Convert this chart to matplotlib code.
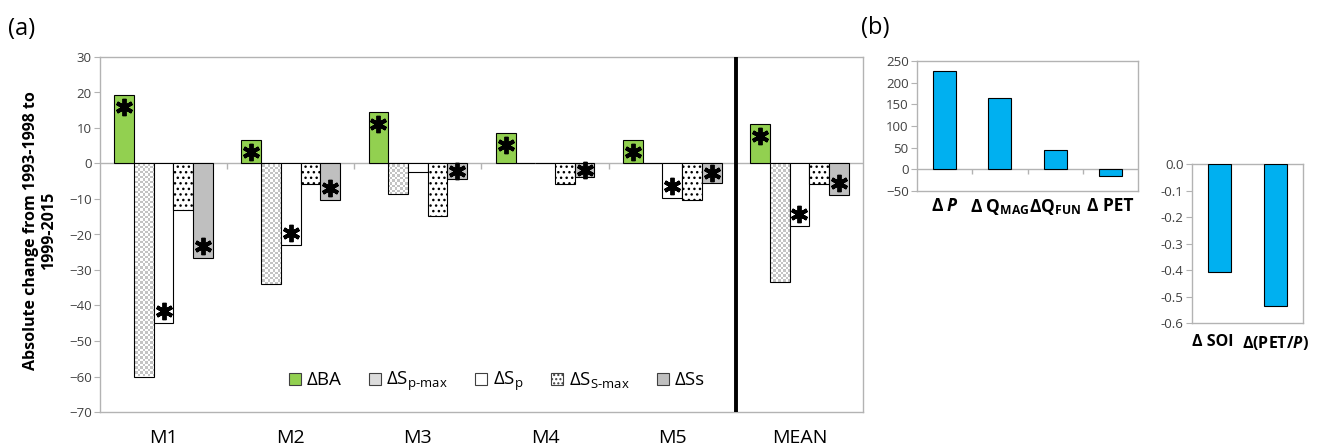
import numpy as np
import matplotlib
matplotlib.use("Agg")
import matplotlib.pyplot as plt
import matplotlib.transforms as mtrans
from matplotlib.patches import Patch
from matplotlib.colors import ListedColormap

plt.rcParams['font.family'] = ['Open Sans', 'DejaVu Sans']
plt.rcParams['mathtext.fontset'] = 'custom'
plt.rcParams['mathtext.rm'] = 'Open Sans'
plt.rcParams['mathtext.it'] = 'Open Sans:italic'
plt.rcParams['mathtext.bf'] = 'Open Sans:bold'
try:
    plt.rcParams['mathtext.bfit'] = 'Open Sans:bold:italic'
except KeyError:
    pass

# ---------------- data ----------------
categories = ["M1", "M2", "M3", "M4", "M5", "MEAN"]
d_BA = [19.4, 6.6, 14.6, 8.5, 6.5, 11.1]
d_Sp_max = [-60.0, -34.0, -8.5, 0.0, 0.0, -33.5]
d_Sp = [-45.0, -23.0, -2.3, 0.0, -9.8, -17.5]
d_Ss_max = [-13.0, -5.7, -14.7, -5.7, -10.3, -5.7]
d_Ss = [-26.7, -10.3, -4.5, -3.7, -5.4, -9.0]
sig_BA = [True, True, True, True, True, True]
sig_Sp_max = [False, False, False, False, False, False]
sig_Sp = [True, True, False, False, True, True]
sig_Ss_max = [False, False, False, False, False, False]
sig_Ss = [True, True, True, True, True, True]
series_labels = ["ΔBA", r"ΔS$_{\text{p-max}}$", r"ΔS$_{\text{p}}$",
                 r"ΔS$_{\text{S-max}}$", "ΔSs"]

b1_labels = [r"Δ $\mathbfit{P}$", r"Δ Q$_{\mathbf{MAG}}$", r"ΔQ$_{\mathbf{FUN}}$", "Δ PET"]
b1_values = [228, 165, 44, -14.5]
b2_labels = ["Δ SOI", r"Δ(PET/$\mathbfit{P}$)"]
b2_values = [-0.406, -0.534]
b2_ticks = [-0.6, -0.5, -0.4, -0.3, -0.2, -0.1, 0.0]
b2_ticklabels = ["-0.6", "-0.5", "-0.4", "-0.3", "-0.2", "-0.1", "0.0"]

# ---------------- style ----------------
GREEN = '#92d050'
GRAY = '#bfbfbf'
BLUE = '#00b0f0'
SPINE = '#b3b3b3'
TICKC = '#404040'

W, H = 1330, 448
fig = plt.figure(figsize=(W / 100, H / 100), dpi=100)

def px_axes(l, t, r, b):
    return fig.add_axes([l / W, 1 - b / H, (r - l) / W, (b - t) / H])

axA = px_axes(100, 57, 863, 412)
axB1 = px_axes(917, 61, 1138, 191)
axB2 = px_axes(1192, 164.3, 1303, 323.3)

def style_axes(ax):
    for s in ax.spines.values():
        s.set_color(SPINE)
        s.set_linewidth(1.0)
    ax.tick_params(axis='y', direction='out', length=4, color=SPINE,
                   labelcolor=TICKC, labelsize=9.5, pad=2)
    ax.tick_params(axis='x', length=0)

# ---------------- panel (a) ----------------
ax = axA
style_axes(ax)
xs = np.arange(len(categories))
bw = 0.155
series = [d_BA, d_Sp_max, d_Sp, d_Ss_max, d_Ss]
sigs = [sig_BA, sig_Sp_max, sig_Sp, sig_Ss_max, sig_Ss]
ax.set_xlim(-0.5, len(categories) - 0.5)
ax.set_ylim(-70, 30)

containers = []
for k, vals in enumerate(series):
    pos = xs + (k - 2) * bw
    if k == 0:
        c = ax.bar(pos, vals, bw, color=GREEN, edgecolor='black', lw=0.8, zorder=3)
    elif k == 1:
        c = ax.bar(pos, vals, bw, facecolor='none', edgecolor='black', lw=0.8, zorder=3)
    elif k == 2:
        c = ax.bar(pos, vals, bw, color='white', edgecolor='black', lw=0.8, zorder=3)
    elif k == 3:
        c = ax.bar(pos, vals, bw, color='white', edgecolor='black', lw=0.8,
                   hatch='...', zorder=3)
    else:
        c = ax.bar(pos, vals, bw, color=GRAY, edgecolor='black', lw=0.8, zorder=3)
    containers.append(c)

# checkerboard fill for S_p-max bars
xl, yl = ax.get_xlim(), ax.get_ylim()
cell = 2.5
nx, ny = int(763 / cell), int(355 / cell)
checker = (np.add.outer(np.arange(ny), np.arange(nx)) % 2).astype(float)
cmap = ListedColormap(['white', '#c4c4c4'])
for bar, v in zip(containers[1], d_Sp_max):
    if v == 0:
        continue
    im = ax.imshow(checker, extent=(xl[0], xl[1], yl[0], yl[1]), cmap=cmap,
                   aspect='auto', interpolation='nearest', zorder=2.5, origin='lower')
    im.set_clip_path(bar)
ax.set_xlim(xl)
ax.set_ylim(yl)

ax.axhline(0, color=SPINE, lw=1.0, zorder=2)
px_per_unit = 355 / 100.0
tick_units = 6 / px_per_unit
ax.vlines(np.arange(len(categories) - 1) + 0.5, -tick_units, 0, color=SPINE, lw=1.0, zorder=2)
ax.axvline(4.5, color='black', lw=2.8, zorder=4)

# significance asterisks
for k, (vals, sg) in enumerate(zip(series, sigs)):
    for i, (v, s) in enumerate(zip(vals, sg)):
        if not s or v == 0:
            continue
        off_px = min(12.0, 0.5 * abs(v) * px_per_unit)
        yy = v - np.sign(v) * off_px / px_per_unit
        ax.plot(xs[i] + (k - 2) * bw, yy, marker=(6, 2, 0), ms=12.5, mew=2.8,
                color='black', zorder=5, linestyle='none')

ax.set_xticks(xs)
ax.set_xticklabels(categories, fontsize=14, color='black')
ax.tick_params(axis='x', pad=12)
ax.set_yticks(np.arange(-70, 31, 10))

handles = []
handles.append(Patch(facecolor=GREEN, edgecolor='#404040', lw=0.8))
handles.append(Patch(facecolor='#dcdcdc', edgecolor='#404040', lw=0.8))
handles.append(Patch(facecolor='white', edgecolor='#404040', lw=0.8))
handles.append(Patch(facecolor='white', edgecolor='#404040', lw=0.8, hatch='....'))
handles.append(Patch(facecolor=GRAY, edgecolor='#404040', lw=0.8))
leg = ax.legend(handles, series_labels, ncol=5, loc='center', bbox_to_anchor=(0.52, 0.085),
                frameon=False, fontsize=13.5, handlelength=0.65, handleheight=0.65,
                handletextpad=0.3, columnspacing=1.45)

fig.text(40 / W, 1 - 231 / H, "Absolute change from 1993-1998 to\n1999-2015",
         rotation=90, ha='center', va='center', fontsize=11.5, fontweight='bold',
         multialignment='center', linespacing=1.15)
fig.text(8 / W, 1 - 29 / H, "(a)", fontsize=17, va='center', ha='left')
fig.text(861 / W, 1 - 28 / H, "(b)", fontsize=17, va='center', ha='left')

# ---------------- panel (b) top ----------------
ax = axB1
style_axes(ax)
xb = np.arange(len(b1_values))
ax.bar(xb, b1_values, 0.42, color=BLUE, edgecolor='black', lw=0.8, zorder=3)
ax.set_xlim(-0.5, len(b1_values) - 0.5)
ax.set_ylim(-50, 250)
ax.set_yticks(np.arange(-50, 251, 50))
ax.axhline(0, color=SPINE, lw=1.0, zorder=2)
ppu = 130 / 300.0
ax.vlines(xb[:-1] + 0.5, -5 / ppu, 0, color=SPINE, lw=1.0, zorder=2)
ax.set_xticks(xb)
ax.set_xticklabels(b1_labels, fontsize=12.5, fontweight='bold', color='black')
ax.tick_params(axis='x', pad=4)

# ---------------- panel (b) bottom ----------------
ax = axB2
style_axes(ax)
xb2 = np.arange(len(b2_values))
ax.bar(xb2, b2_values, 0.41, color=BLUE, edgecolor='black', lw=0.8, zorder=3)
ax.set_xlim(-0.5, len(b2_values) - 0.5)
ax.set_ylim(-0.6, 0.0)
ax.set_yticks(b2_ticks)
ax.set_yticklabels(b2_ticklabels)
ax.set_xticks(xb2)
ax.set_xticklabels(b2_labels, fontsize=11.5, fontweight='bold', color='black')
ax.tick_params(axis='x', pad=8)
lbls = ax.get_xticklabels()
lbls[0].set_horizontalalignment('right')
lbls[0].set_transform(lbls[0].get_transform() +
                      mtrans.ScaledTranslation(14 / 100, 0, fig.dpi_scale_trans))

fig.savefig("out.png", dpi=100)
